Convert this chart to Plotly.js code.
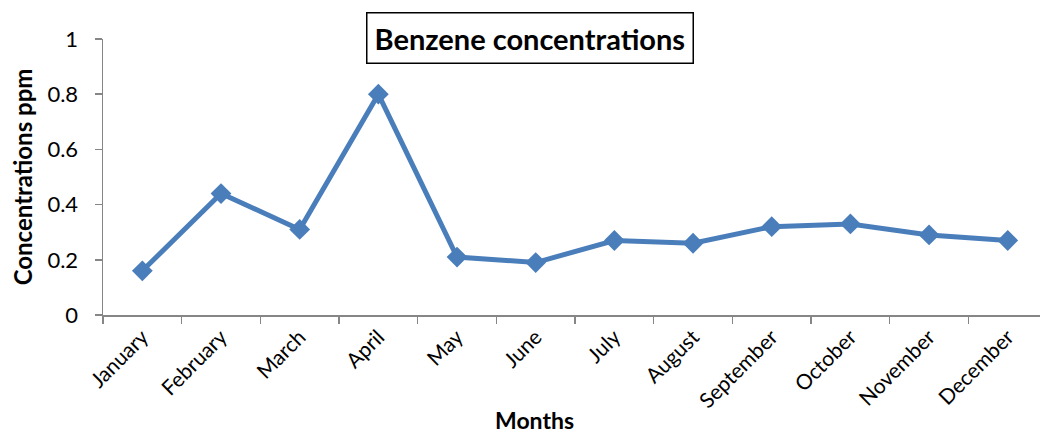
<!DOCTYPE html>
<html><head><meta charset="utf-8">
<script src="https://cdn.plot.ly/plotly-3.0.1.min.js"></script>
<style>html,body{margin:0;padding:0;background:#fff}#chart{width:1040px;height:434px}</style>
</head><body><div id="chart"></div>
<script>
const months = ["January","February","March","April","May","June","July","August","September","October","November","December"];
const benzene = [0.16,0.44,0.31,0.80,0.21,0.19,0.27,0.26,0.32,0.33,0.29,0.27];
const yTicks = [0,0.2,0.4,0.6,0.8,1];
const yTickText = ["0","0.2","0.4","0.6","0.8","1"];
const titleText = "Benzene concentrations";
const xTitle = "Months";
const yTitle = "Concentrations ppm";

const font = "Lato, 'Open Sans', sans-serif";
const trace = {
  x: months, y: benzene, type: "scatter", mode: "lines+markers",
  line: {color: "#4a7ebb", width: 5},
  marker: {symbol: "diamond", size: 16, color: "#4a7ebb"},
  hoverinfo: "skip"
};
const layout = {
  width: 1040, height: 434,
  margin: {l: 103, r: 0, t: 39, b: 119},
  paper_bgcolor: "#fff", plot_bgcolor: "#fff",
  showlegend: false,
  font: {family: font, color: "#000"},
  xaxis: {
    type: "category", range: [-0.5, 11.41],
    tickson: "boundaries", ticks: "outside", ticklen: 7, tickcolor: "#868686", tickwidth: 1.5,
    showline: true, linecolor: "#868686", linewidth: 1.5, showgrid: false, zeroline: false,
    tickangle: -45, tickfont: {size: 21, family: font}
  },
  yaxis: {
    range: [0, 1], tickvals: yTicks, ticktext: yTickText,
    ticks: "outside", ticklen: 7, tickcolor: "#868686", tickwidth: 1.5,
    showline: true, linecolor: "#868686", linewidth: 1.5, showgrid: false, zeroline: false,
    tickfont: {size: 22, family: font}, ticklabelstandoff: 12,
    title: {text: yTitle, font: {size: 24, family: font, weight: "bold"}, standoff: 8}
  },
  annotations: [{
    text: "<b>" + titleText + "</b>", xref: "paper", yref: "paper",
    x: (530-103)/937, y: (434-38-119)/276, xanchor: "center", yanchor: "middle",
    showarrow: false, font: {size: 29, family: font, color: "#000"},
    bordercolor: "#000", borderwidth: 1.5, borderpad: 7, bgcolor: "#fff"
  }, {
    text: "<b>" + xTitle + "</b>", xref: "paper", yref: "paper",
    x: (534-103)/937, y: (434-420-119)/276, xanchor: "center", yanchor: "middle",
    showarrow: false, font: {size: 23, family: font, color: "#000"}
  }]
};
Plotly.newPlot("chart", [trace], layout, {displayModeBar: false, staticPlot: true});
</script></body></html>
